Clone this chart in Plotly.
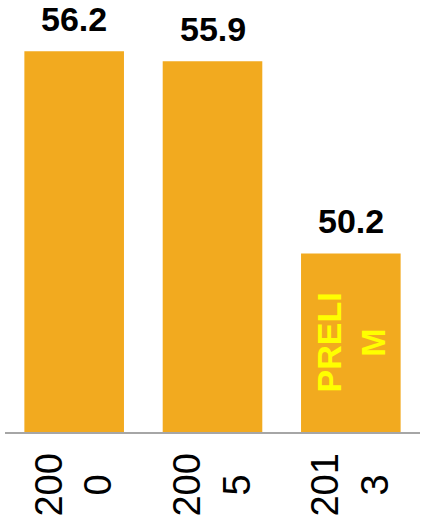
import plotly.graph_objects as go

categories = ["2000", "2005", "2013"]
tick_labels = ["200<br>0\u00a0\u00a0", "200<br>5\u00a0\u00a0", "201<br>3\u00a0\u00a0"]
values = [56.2, 55.9, 50.2]
value_labels = ["56.2", "55.9", "50.2"]
note_category = "2013"
note_text = "PRELI<br>M"

bar_color = "#F2AA1F"
y_min = 44.9
y_max = 57.72

# category keys shown as wrapped year labels
x_keys = tick_labels

fig = go.Figure()
fig.add_trace(go.Bar(
    x=x_keys, y=values, marker=dict(color=bar_color, line=dict(width=0)),
    hoverinfo="skip", customdata=categories,
))

for i, (v, t) in enumerate(zip(values, value_labels)):
    fig.add_annotation(x=i, y=v, text="<b>" + t + "</b>", showarrow=False, yanchor="bottom",
                       yshift=11, font=dict(family="Liberation Sans", size=34, color="#000000"),
                       xref="x", yref="y")

ni = categories.index(note_category)
fig.add_annotation(x=ni, y=(y_min + values[ni]) / 2, text="<b>" + note_text + "</b>",
                   showarrow=False, textangle=-90, xref="x", yref="y",
                   font=dict(family="Liberation Sans", size=34, color="#FFFF00"))

fig.update_layout(
    width=423, height=525,
    margin=dict(l=5, r=3, t=0, b=93, autoexpand=False),
    paper_bgcolor="white", plot_bgcolor="white",
    bargap=0.28, showlegend=False,
    xaxis=dict(
        type="category", range=[-0.5, 2.5],
        tickangle=-90, showline=True, linecolor="#A6A6A6", linewidth=2,
        showgrid=False, ticks="", automargin=False, ticklabelstandoff=4,
        tickfont=dict(family="Liberation Sans", size=38, color="#000000"),
    ),
    yaxis=dict(range=[y_min, y_max], visible=False, showgrid=False, zeroline=False),
)

fig.write_html("out.html")
